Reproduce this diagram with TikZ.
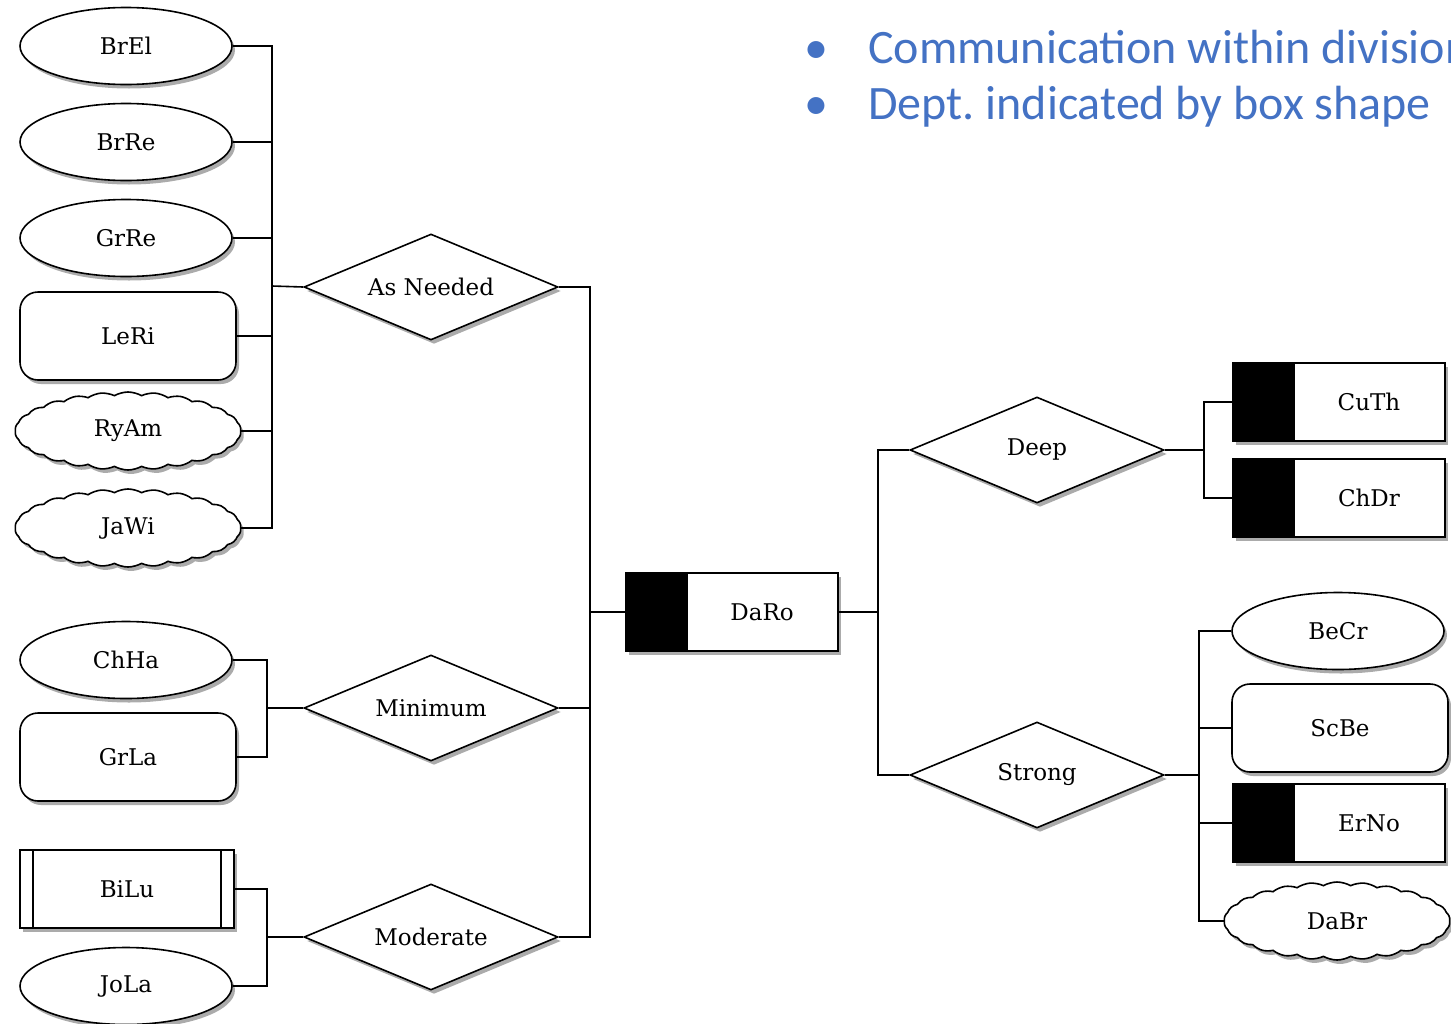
\documentclass[tikz,border=0pt]{standalone}
\usepackage{fontspec}
\setmainfont{DejaVu Serif}
\newfontfamily\bulletfont{Carlito}
\usetikzlibrary{shapes.geometric,shapes.symbols,shadows}
\definecolor{bluetxt}{RGB}{68,114,196}
\newcommand{\lblfont}{\fontsize{23}{27}\selectfont}
\newcommand{\dtxt}[1]{\makebox[0pt]{#1}}
\tikzset{
  shad/.style={drop shadow={shadow xshift=3pt, shadow yshift=-4pt, fill=black!60, opacity=0.55}},
  common/.style={draw=black, line width=1.6pt, fill=white, shad, font=\lblfont, inner sep=0pt},
  ell/.style={common, ellipse, minimum width=212pt, minimum height=77pt},
  rbox/.style={common, rectangle, rounded corners=18pt, minimum width=216pt, minimum height=88pt},
  cld/.style={common, cloud, cloud puffs=26, cloud puff arc=60, cloud ignores aspect, minimum width=226pt, minimum height=78pt},
  dia/.style={common, diamond, minimum width=254pt, minimum height=106pt},
  dept/.style={common, rectangle, minimum width=212pt, minimum height=78pt,
    execute at begin node={\hspace*{60pt}},
    path picture={\fill[black] (path picture bounding box.north west) rectangle ([xshift=62pt]path picture bounding box.south west);}},
  dbl/.style={common, rectangle, minimum width=214pt, minimum height=78pt,
    path picture={\draw[line width=1.6pt] ([xshift=13pt]path picture bounding box.north west) -- ([xshift=13pt]path picture bounding box.south west);
                  \draw[line width=1.6pt] ([xshift=-13pt]path picture bounding box.north east) -- ([xshift=-13pt]path picture bounding box.south east);}},
  conn/.style={draw=black, line width=1.6pt},
  bul/.style={text=bluetxt, font=\bulletfont\fontsize{48}{56}\selectfont, inner sep=0pt}
}
\begin{document}
\begin{tikzpicture}[x=1pt,y=-1pt]
\useasboundingbox (0,0) rectangle (1451,1023);

% left group: As Needed
\node[ell]  (BrEl) at (126,46)  {BrEl};
\node[ell]  (BrRe) at (126,142) {BrRe};
\node[ell]  (GrRe) at (126,238) {GrRe};
\node[rbox] (LeRi) at (128,336) {LeRi};
\node[cld]  (RyAm) at (128,431) {RyAm};
\node[cld]  (JaWi) at (128,528) {JaWi};
\node[dia]  (AsN)  at (431,287) {\dtxt{As Needed}};

% Minimum
\node[ell]  (ChHa) at (126,660) {ChHa};
\node[rbox] (GrLa) at (128,757) {GrLa};
\node[dia]  (Min)  at (431,708) {\dtxt{Minimum}};

% Moderate
\node[dbl]  (BiLu) at (127,889) {BiLu};
\node[ell]  (JoLa) at (126,986) {JoLa};
\node[dia]  (Mod)  at (431,937) {\dtxt{Moderate}};

% centre
\node[dept] (DaRo) at (732,612) {DaRo};

% right
\node[dia]  (Deep)   at (1037,450) {\dtxt{Deep}};
\node[dia]  (Strong) at (1037,775) {\dtxt{Strong}};
\node[dept] (CuTh) at (1339,402) {CuTh};
\node[dept] (ChDr) at (1339,498) {ChDr};
\node[ell]  (BeCr) at (1338,631) {BeCr};
\node[rbox] (ScBe) at (1340,728) {ScBe};
\node[dept] (ErNo) at (1339,823) {ErNo};
\node[cld]  (DaBr) at (1337,921) {DaBr};

% junctions
\coordinate (jA) at (272,286);
\coordinate (jM) at (267,708);
\coordinate (jMo) at (267,937);
\coordinate (jR) at (590,612);
\coordinate (jD) at (878,612);
\coordinate (jDeep) at (1204,450);
\coordinate (jS) at (1199,775);

\foreach \n in {BrEl,BrRe,GrRe,LeRi,RyAm,JaWi} \draw[conn] (\n.east) -| (jA);
\draw[conn] (jA) -- (AsN.west);
\foreach \n in {ChHa,GrLa} \draw[conn] (\n.east) -| (jM);
\draw[conn] (jM) -- (Min.west);
\foreach \n in {BiLu,JoLa} \draw[conn] (\n.east) -| (jMo);
\draw[conn] (jMo) -- (Mod.west);
\foreach \n in {AsN,Min,Mod} \draw[conn] (\n.east) -| (jR);
\draw[conn] (jR) -- (DaRo.west);
\draw[conn] (DaRo.east) -- (jD);
\draw[conn] (jD) |- (Deep.west);
\draw[conn] (jD) |- (Strong.west);
\draw[conn] (Deep.east) -- (jDeep);
\foreach \n in {CuTh,ChDr} \draw[conn] (jDeep) |- (\n.west);
\draw[conn] (Strong.east) -- (jS);
\foreach \n in {BeCr,ScBe,ErNo,DaBr} \draw[conn] (jS) |- (\n.west);

% bullet text
\node[bul, anchor=base] (b1) at (816,63) {•};
\node[bul, anchor=base west] (t1) at (868,63) {Communication within division};
\node[bul, anchor=base] (b2) at (816,119) {•};
\node[bul, anchor=base west] (t2) at (868,119) {Dept.\ indicated by box shape};
\end{tikzpicture}
\end{document}
